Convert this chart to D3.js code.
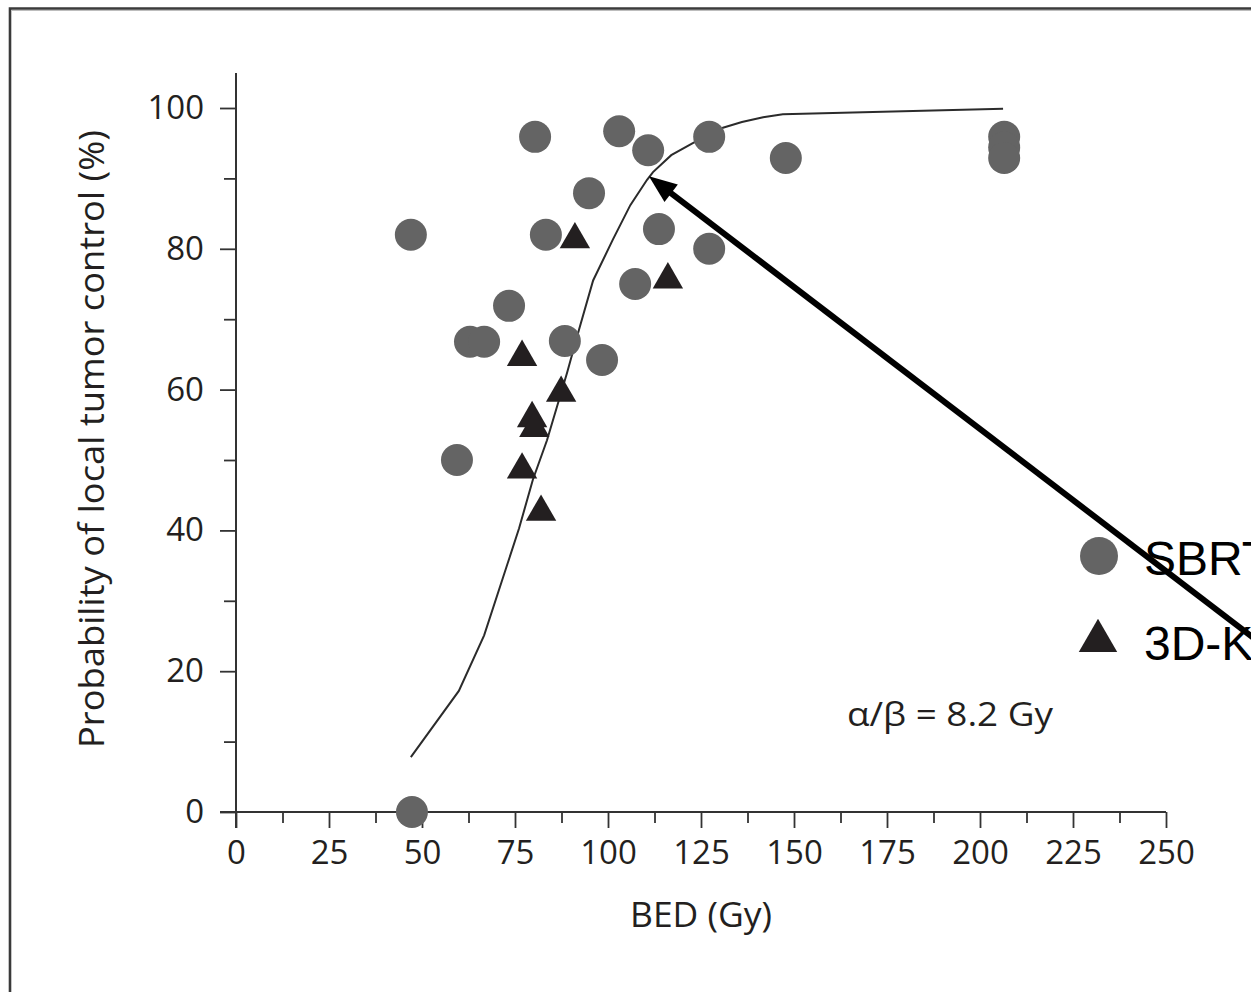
<!DOCTYPE html>
<html>
<head>
<meta charset="utf-8">
<script src="https://cdn.jsdelivr.net/npm/d3@7"></script>
<style>
  html, body { margin: 0; padding: 0; background: #fff; }
  svg { display: block; }
</style>
</head>
<body>
<svg id="chart" width="1251" height="992"></svg>
<script>
// SBRT series: BED (Gy) vs probability of local tumor control (%)
const sbrtBED = [47, 47.3, 59.4, 62.9, 66.7, 73.4, 80.4, 83.3, 88.4, 94.9, 98.4, 103, 107.3, 110.8, 113.7, 127.2, 127.2, 147.8, 206.5, 206.5, 206.5];
const sbrtTCP = [82, 0, 50, 66.8, 66.8, 71.9, 95.9, 82, 66.9, 87.9, 64.2, 96.7, 75, 94, 82.8, 95.9, 80, 92.9, 95.9, 94.4, 92.9];

// 3D-conformal series
const crtBED = [91.1, 116.1, 76.9, 87.4, 79.6, 80.2, 76.9, 82];
const crtTCP = [81.6, 75.9, 64.9, 59.8, 56.2, 54.8, 48.9, 42.9];

// fitted dose-response curve
const fitBED = [47, 59.9, 66.7, 76.1, 79.8, 83.6, 89, 92.2, 96, 101.3, 106, 110.5, 112.1, 117, 122.8, 130.9, 136, 141.7, 147, 206.2];
const fitTCP = [7.8, 17.2, 25.1, 40.3, 47.2, 52.8, 62.4, 68.5, 75.5, 81.3, 86.2, 89.8, 90.9, 93.3, 95, 97.2, 98, 98.7, 99.1, 99.9];

// axis ticks
const xMajorTicks = [0, 25, 50, 75, 100, 125, 150, 175, 200, 225, 250];
const xMinorTicks = [12.5, 37.5, 62.5, 87.5, 112.5, 137.5, 162.5, 187.5, 212.5, 237.5];
const yMajorTicks = [0, 20, 40, 60, 80, 100];
const yMinorTicks = [10, 30, 50, 70, 90];

// annotation arrow, in data units (tail runs off the right edge)
const arrowFrom = [286, 19.7];
const arrowTo = [111, 90.3];

const legendItems = ["SBRT", "3D-KRT"];

const svg = d3.select("#chart");
const ink = "#231f20";
const axisFont = "'Open Sans', 'Noto Sans', sans-serif";

const x = d3.scaleLinear().domain([0, 250]).range([236, 1166]);
const y = d3.scaleLinear().domain([0, 100]).range([812, 108]);

// outer frame (top and left edges)
svg.append("path")
  .attr("d", "M10,992 V8.5 H1251")
  .attr("fill", "none").attr("stroke", "#3a3a3a").attr("stroke-width", 2.6);
svg.append("line")
  .attr("x1", 11.5).attr("x2", 1251).attr("y1", 10.5).attr("y2", 10.5)
  .attr("stroke", "#bdbdbd").attr("stroke-width", 1);

// axes
function styleAxis(g) {
  g.select(".domain").remove();
  g.selectAll(".tick line").attr("stroke", "#333").attr("stroke-width", 1.8);
  g.selectAll(".tick text").attr("fill", ink).attr("font-family", axisFont).attr("font-size", 33);
}

const gx = svg.append("g").attr("transform", `translate(0,${y(0)})`);
gx.append("g").call(d3.axisBottom(x).tickValues(xMinorTicks).tickSize(11).tickFormat(""))
  .call(styleAxis);
gx.append("g").call(d3.axisBottom(x).tickValues(xMajorTicks).tickSize(16).tickPadding(13).tickFormat(d3.format("d")))
  .call(styleAxis);
gx.selectAll(".tick text").attr("dy", "0.71em");
gx.append("line").attr("x1", 220).attr("x2", x(250)).attr("stroke", "#333").attr("stroke-width", 2);

const gy = svg.append("g").attr("transform", `translate(${x(0)},0)`);
gy.append("g").call(d3.axisLeft(y).tickValues(yMinorTicks).tickSize(12).tickFormat(""))
  .call(styleAxis);
gy.append("g").call(d3.axisLeft(y).tickValues(yMajorTicks).tickSize(16).tickPadding(16).tickFormat(d3.format("d")))
  .call(styleAxis);
gy.append("line").attr("y1", 73).attr("y2", y(0) + 16).attr("stroke", "#333").attr("stroke-width", 2);

// axis titles
svg.append("text")
  .attr("x", 701).attr("y", 927)
  .attr("text-anchor", "middle")
  .attr("font-family", axisFont).attr("font-size", 34).attr("fill", ink)
  .attr("textLength", 142).attr("lengthAdjust", "spacingAndGlyphs")
  .text("BED (Gy)");

svg.append("text")
  .attr("transform", `translate(104,439) rotate(-90)`)
  .attr("text-anchor", "middle")
  .attr("font-family", axisFont).attr("font-size", 34).attr("fill", ink)
  .attr("textLength", 618).attr("lengthAdjust", "spacingAndGlyphs")
  .text("Probability of local tumor control (%)");

// alpha/beta note
svg.append("text")
  .attr("x", 847).attr("y", 726)
  .attr("font-family", axisFont).attr("font-size", 33).attr("fill", ink)
  .attr("textLength", 206).attr("lengthAdjust", "spacingAndGlyphs")
  .text("\u03B1/\u03B2 = 8.2 Gy");

// fitted curve
const fit = fitBED.map((b, i) => [b, fitTCP[i]]);
svg.append("path")
  .datum(fit)
  .attr("d", d3.line().x(d => x(d[0])).y(d => y(d[1])))
  .attr("fill", "none").attr("stroke", "#2b2b2b").attr("stroke-width", 2);

// SBRT points
const sbrt = sbrtBED.map((b, i) => [b, sbrtTCP[i]]);
svg.append("g").selectAll("circle").data(sbrt).join("circle")
  .attr("cx", d => x(d[0])).attr("cy", d => y(d[1])).attr("r", 16)
  .attr("fill", "#646464");

// 3D-conformal points
const tri = d3.symbol().type(d3.symbolTriangle).size(400);
const crt = crtBED.map((b, i) => [b, crtTCP[i]]);
svg.append("g").selectAll("path").data(crt).join("path")
  .attr("transform", d => `translate(${x(d[0])},${y(d[1]) + 2})`)
  .attr("d", tri).attr("fill", ink);

// arrow
const ax0 = x(arrowFrom[0]), ay0 = y(arrowFrom[1]);
const ax1 = x(arrowTo[0]), ay1 = y(arrowTo[1]);
const ang = Math.atan2(ay1 - ay0, ax1 - ax0);
const headLen = 28, headHalf = 11;
const bx = ax1 - headLen * Math.cos(ang), by = ay1 - headLen * Math.sin(ang);
svg.append("line")
  .attr("x1", ax0).attr("y1", ay0).attr("x2", bx + 4 * Math.cos(ang)).attr("y2", by + 4 * Math.sin(ang))
  .attr("stroke", "#000").attr("stroke-width", 6);
svg.append("path")
  .attr("d", `M${ax1},${ay1} L${bx - headHalf * Math.sin(ang)},${by + headHalf * Math.cos(ang)} L${bx + headHalf * Math.sin(ang)},${by - headHalf * Math.cos(ang)} Z`)
  .attr("fill", "#000");

// legend
const legend = svg.append("g");
legend.append("circle").attr("cx", 1099).attr("cy", 556).attr("r", 19).attr("fill", "#646464");
legend.append("path")
  .attr("transform", "translate(1098,641)")
  .attr("d", d3.symbol().type(d3.symbolTriangle).size(640)).attr("fill", ink);
legend.selectAll("text").data(legendItems).join("text")
  .attr("x", 1144).attr("y", (d, i) => 575 + i * 85)
  .attr("font-family", "'Liberation Sans', Arial, sans-serif").attr("font-size", 48).attr("fill", "#000")
  .text(d => d);
</script>
</body>
</html>
